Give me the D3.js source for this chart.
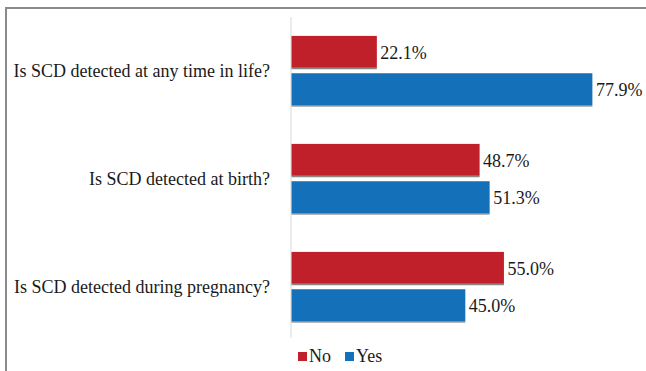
<!DOCTYPE html>
<html>
<head>
<meta charset="utf-8">
<script src="https://cdn.jsdelivr.net/npm/d3@7"></script>
<style>
  body { margin: 0; background: #fff; }
  svg { display: block; font-family: "Liberation Serif", "Times New Roman", serif; }
</style>
</head>
<body>
<div id="chart"></div>
<script>
// data
const questions = [
  "Is SCD detected at any time in life?",
  "Is SCD detected at birth?",
  "Is SCD detected during pregnancy?"
];
const answers = ["No", "Yes"];
const noValues = [22.1, 48.7, 55.0];
const yesValues = [77.9, 51.3, 45.0];
const colors = ["#c0202a", "#1570ba"];

const W = 646, H = 371;

let svg = d3.select("#chart")
  .append("svg")
    .attr("width", W)
    .attr("height", H);

// outer frame (runs off the right and bottom)
svg.append("rect")
  .attr("x", 6).attr("y", 8)
  .attr("width", 700).attr("height", 400)
  .attr("fill", "none")
  .attr("stroke", "#8a8a8a")
  .attr("stroke-width", 2);

const rows = questions.map((q, i) => ({
  q: q,
  values: [
    { key: "No", v: noValues[i] },
    { key: "Yes", v: yesValues[i] }
  ]
}));

// scales
const xScale = d3.scaleLinear().domain([0, 80]).range([291, 600]);
const yScale = d3.scaleBand().domain(questions).range([17, 341])
  .paddingInner(0.35).paddingOuter(0.175);
const subScale = d3.scaleBand().domain(answers).range([0, yScale.bandwidth()])
  .paddingInner(0.12);
const color = d3.scaleOrdinal().domain(answers).range(colors);

// vertical axis line
svg.append("line")
  .attr("x1", xScale(0)).attr("x2", xScale(0))
  .attr("y1", 17).attr("y2", 338)
  .attr("stroke", "#d9d9d9")
  .attr("stroke-width", 1);

// category labels
svg.append("g")
  .selectAll("text")
  .data(questions)
  .join("text")
    .attr("x", 270)
    .attr("y", d => yScale(d) + yScale.bandwidth() / 2)
    .attr("dy", "0.35em")
    .attr("text-anchor", "end")
    .attr("font-size", 18)
    .attr("fill", "#1a1a1a")
    .text(d => d);

const groups = svg.selectAll(".grp")
  .data(rows)
  .join("g")
    .attr("class", "grp")
    .attr("transform", d => "translate(0," + yScale(d.q) + ")");

const bars = groups.selectAll(".bar")
  .data(d => d.values)
  .join("g")
    .attr("class", "bar");

// bar shadow at bottom
bars.append("rect")
  .attr("x", xScale(0) + 0.5)
  .attr("y", d => subScale(d.key) + subScale.bandwidth() - 1)
  .attr("width", d => xScale(d.v) - xScale(0))
  .attr("height", 1.5)
  .attr("fill", "#888");

bars.append("rect")
  .attr("x", xScale(0) + 0.5)
  .attr("y", d => subScale(d.key))
  .attr("width", d => xScale(d.v) - xScale(0))
  .attr("height", subScale.bandwidth() - 1)
  .attr("fill", d => color(d.key));

bars.append("text")
  .attr("x", d => xScale(d.v) + 4)
  .attr("y", d => subScale(d.key) + subScale.bandwidth() / 2)
  .attr("dy", "0.35em")
  .attr("font-size", 18)
  .attr("fill", "#1a1a1a")
  .text(d => d.v.toFixed(1) + "%");

// legend
const legend = svg.append("g")
  .attr("transform", "translate(298,352)");
const legX = [0, 47];
answers.forEach((a, i) => {
  legend.append("rect")
    .attr("x", legX[i]).attr("y", 0)
    .attr("width", 9).attr("height", 9)
    .attr("fill", colors[i]);
  legend.append("text")
    .attr("x", legX[i] + 11).attr("y", 10)
    .attr("font-size", 18)
    .attr("fill", "#1a1a1a")
    .text(a);
});
</script>
</body>
</html>
